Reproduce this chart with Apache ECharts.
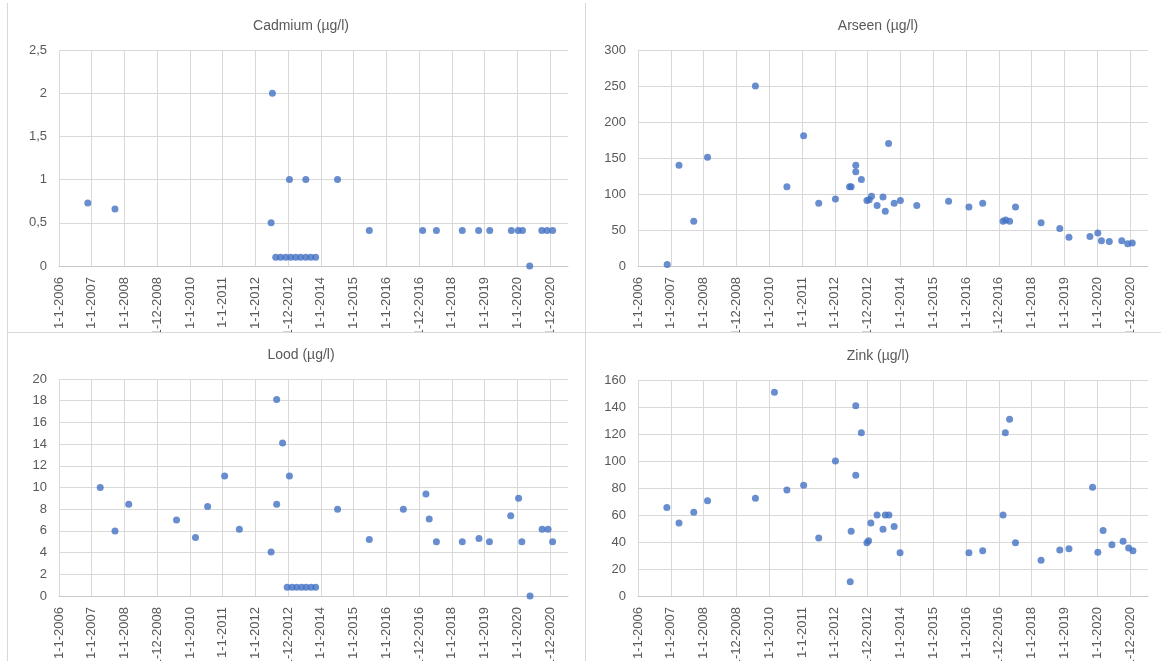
<!DOCTYPE html>
<html>
<head>
<meta charset="utf-8">
<script src="https://cdn.jsdelivr.net/npm/echarts@6.0.0/dist/echarts.min.js"></script>
<style>
  html, body { margin: 0; padding: 0; background: #ffffff; width: 1161px; height: 661px; overflow: hidden; position: relative; }
  .clip { position: absolute; overflow: hidden; }
  .chart { position: absolute; width: 1161px; height: 700px; }
  .line { position: absolute; background: #d9d9d9; }
</style>
</head>
<body>
<div class="clip" style="left:0;top:0;width:585px;height:332px;"><div id="c1" class="chart" style="left:0;top:0;"></div></div>
<div class="clip" style="left:585px;top:0;width:576px;height:332px;"><div id="c2" class="chart" style="left:-585px;top:0;"></div></div>
<div class="clip" style="left:0;top:333px;width:585px;height:328px;"><div id="c3" class="chart" style="left:0;top:-333px;"></div></div>
<div class="clip" style="left:585px;top:333px;width:576px;height:328px;"><div id="c4" class="chart" style="left:-585px;top:-333px;"></div></div>
<div class="line" style="left:7px;top:3px;width:1px;height:658px;"></div>
<div class="line" style="left:585px;top:3px;width:1px;height:658px;"></div>
<div class="line" style="left:7px;top:332px;width:1154px;height:1px;"></div>
<script>
// Axis tick labels (x axis: one label per major unit starting at 1-1-2006)
const xTickLabels = ['1-1-2006','1-1-2007','1-1-2008','31-12-2008','1-1-2010','1-1-2011','1-1-2012','31-12-2012','1-1-2014','1-1-2015','1-1-2016','31-12-2016','1-1-2018','1-1-2019','1-1-2020','31-12-2020'];

// Series: [axis position (2006 + major units), value]
const cadmium = [
  [2006.88,0.73],[2007.71,0.66],[2012.48,0.5],[2012.52,2.0],
  [2012.62,0.1],[2012.77,0.1],[2012.93,0.1],[2013.08,0.1],[2013.23,0.1],[2013.38,0.1],[2013.54,0.1],[2013.69,0.1],[2013.84,0.1],
  [2013.04,1.0],[2013.54,1.0],[2014.51,1.0],[2015.48,0.41],[2017.11,0.41],[2017.53,0.41],[2018.32,0.41],
  [2018.82,0.41],[2019.16,0.41],[2019.82,0.41],[2020.03,0.41],[2020.16,0.41],[2020.38,0],
  [2020.75,0.41],[2020.91,0.41],[2021.08,0.41]
];
const arseen = [
  [2006.89,2],[2007.25,140],[2007.70,62],[2008.12,151],[2009.58,250],[2010.54,110],[2011.05,181],
  [2011.51,87],[2012.02,93],[2012.45,110],[2012.50,110],[2012.64,140],[2012.64,131],[2012.81,120],
  [2012.98,91],[2013.05,92],[2013.12,97],[2013.29,84],[2013.47,96],[2013.54,76],[2013.64,170],
  [2013.81,87],[2014.00,91],[2014.50,84],[2015.47,90],[2016.09,82],[2016.51,87],[2017.13,62],
  [2017.21,64],[2017.33,62],[2017.51,82],[2018.29,60],[2018.86,52],[2019.14,40],[2019.78,41],
  [2020.02,46],[2020.13,35],[2020.37,34],[2020.75,35],[2020.93,31],[2021.07,32]
];
const lood = [
  [2007.26,10.0],[2007.71,6.0],[2008.13,8.45],[2009.59,7.0],[2010.17,5.4],[2010.54,8.25],[2011.06,11.05],
  [2011.51,6.15],[2012.48,4.05],[2012.65,18.1],[2012.65,8.45],[2012.83,14.1],[2013.04,11.05],
  [2012.97,0.8],[2013.12,0.8],[2013.26,0.8],[2013.41,0.8],[2013.55,0.8],[2013.70,0.8],[2013.84,0.8],
  [2014.51,8.0],[2015.48,5.2],[2016.52,8.0],[2017.21,9.4],[2017.31,7.1],[2017.53,5.0],[2018.32,5.0],
  [2018.83,5.3],[2019.15,5.0],[2019.80,7.4],[2020.04,9.0],[2020.14,5.0],[2020.39,0],[2020.76,6.15],
  [2020.94,6.15],[2021.08,5.0]
];
const zink = [
  [2006.88,65.5],[2007.25,54],[2007.70,62],[2008.12,70.5],[2009.58,72.5],[2010.16,151],[2010.54,78.5],
  [2011.05,82],[2011.51,43],[2012.02,100],[2012.47,10.5],[2012.50,48],[2012.64,141],[2012.64,89.5],
  [2012.81,121],[2012.98,39.5],[2013.03,41],[2013.10,54],[2013.29,60],[2013.47,49.5],[2013.54,60],
  [2013.65,60],[2013.81,51.5],[2013.99,32],[2016.09,32],[2016.51,33.5],[2017.13,60],[2017.20,121],
  [2017.33,131],[2017.51,39.5],[2018.29,26.5],[2018.86,34],[2019.14,35],[2019.86,80.5],[2020.02,32.5],
  [2020.18,48.5],[2020.45,38],[2020.79,40.5],[2020.96,35.5],[2021.09,33.5]
];

const yTickLabelFormat = v => String(v).replace('.', ',');

function panel(el, title, titleX, titleTop, grid, yMax, yInterval, data) {
  const chart = echarts.init(document.getElementById(el));
  chart.setOption({
    animation: false,
    backgroundColor: 'transparent',
    title: {
      text: title, left: titleX, top: titleTop, textAlign: 'center',
      textStyle: { fontFamily: 'Liberation Sans', fontSize: 14, fontWeight: 'normal', color: '#595959' }
    },
    grid: Object.assign({ containLabel: false, outerBoundsMode: 'none' }, grid),
    xAxis: {
      type: 'value', min: 2006, max: 2021.55, interval: 1,
      axisLine: { show: true, lineStyle: { color: '#c8c8c8', width: 1 } },
      axisTick: { show: false },
      splitLine: { show: true, showMaxLine: false, lineStyle: { color: '#d9d9d9', width: 1 } },
      axisLabel: {
        rotate: 90, margin: 11, showMaxLabel: false, hideOverlap: false,
        fontFamily: 'Liberation Sans', fontSize: 13, color: '#595959',
        formatter: v => {
          const i = Math.round(v - 2006);
          if (Math.abs(v - 2006 - i) > 1e-6) return '';
          return xTickLabels[i] || '';
        }
      }
    },
    yAxis: {
      type: 'value', min: 0, max: yMax, interval: yInterval,
      axisLine: { show: false }, axisTick: { show: false },
      splitLine: { show: true, lineStyle: { color: '#d9d9d9', width: 1 } },
      axisLabel: { margin: 12, fontFamily: 'Liberation Sans', fontSize: 13, color: '#595959', formatter: yTickLabelFormat }
    },
    series: [{
      type: 'scatter', data: data, symbol: 'circle', symbolSize: 7,
      itemStyle: { color: '#4472C4' }
    }]
  });
}

panel('c1', 'Cadmium (µg/l)', 296, 14, { left: 59, top: 50, width: 509, height: 216 }, 2.5, 0.5, cadmium);
panel('c2', 'Arseen (µg/l)', 873, 14, { left: 638, top: 50, width: 510, height: 216 }, 300, 50, arseen);
panel('c3', 'Lood (µg/l)', 296, 343, { left: 59, top: 379, width: 509, height: 217 }, 20, 2, lood);
panel('c4', 'Zink (µg/l)', 873, 344, { left: 638, top: 380, width: 510, height: 216 }, 160, 20, zink);
</script>
</body>
</html>
